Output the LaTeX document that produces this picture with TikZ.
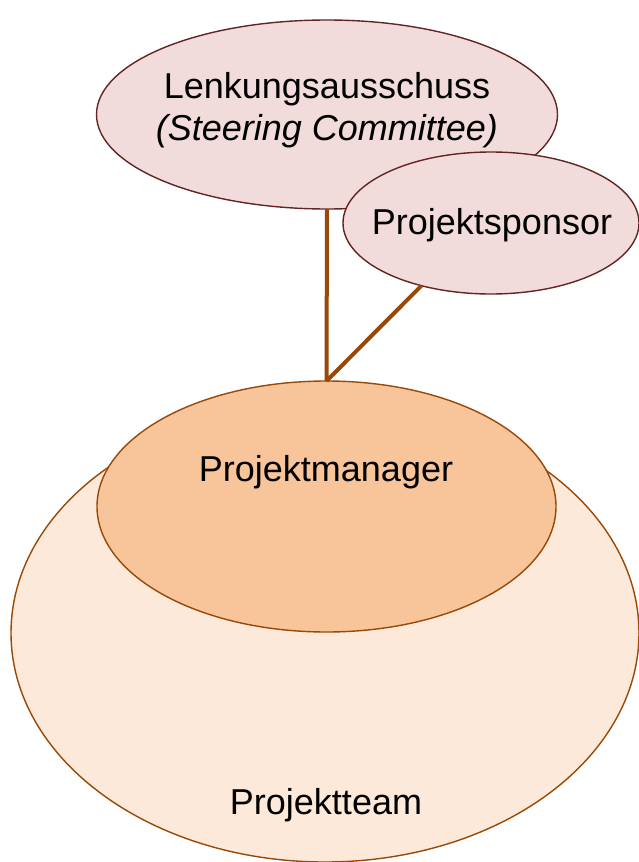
\documentclass[tikz,border=0pt]{standalone}
\usepackage{fontspec}
\setmainfont{Liberation Sans}
\usetikzlibrary{shapes.geometric}
\definecolor{pinkfill}{HTML}{F2DCDB}
\definecolor{pinkline}{HTML}{632523}
\definecolor{pmfill}{HTML}{F8C49A}
\definecolor{teamfill}{HTML}{FDE9D9}
\definecolor{orgline}{HTML}{984807}
\tikzset{
  oval/.style={ellipse, inner sep=0pt, outer sep=0pt, line width=1.4pt},
  pinkoval/.style={oval, draw=pinkline, fill=pinkfill},
  lbl/.style={inner sep=0pt, font=\fontsize{36}{42}\selectfont, align=center},
  link/.style={draw=orgline, line width=4pt}
}
\begin{document}
\begin{tikzpicture}[x=1pt,y=-1pt]
\useasboundingbox (0,0) rectangle (639,862);
% Projektteam
\node[oval, draw=orgline, fill=teamfill, minimum width=628pt, minimum height=458pt] (team) at (325,633) {};
% Projektmanager
\node[oval, draw=orgline, fill=pmfill, minimum width=459pt, minimum height=251pt] (pm) at (326.5,506.5) {};
% Lenkungsausschuss
\node[pinkoval, minimum width=461pt, minimum height=189pt] (lenk) at (327,114.5) {};
% Projektsponsor
\node[pinkoval, minimum width=296pt, minimum height=142pt] (sp) at (491,223) {};
% connectors
\draw[link] (lenk.south) -- (pm.north);
\draw[link] (sp.222) -- (pm.north);
% texts
\node[lbl, anchor=base] (tl1) at (327,98) {Lenkungsausschuss};
\node[lbl, anchor=base] (tl2) at (327,140) {\itshape (Steering Committee)};
\node[lbl, anchor=base] (tsp) at (492,234) {Projektsponsor};
\node[lbl, anchor=base] (tpm) at (326,481) {Projektmanager};
\node[lbl, anchor=base] (tteam) at (326,814) {Projektteam};
\end{tikzpicture}
\end{document}
